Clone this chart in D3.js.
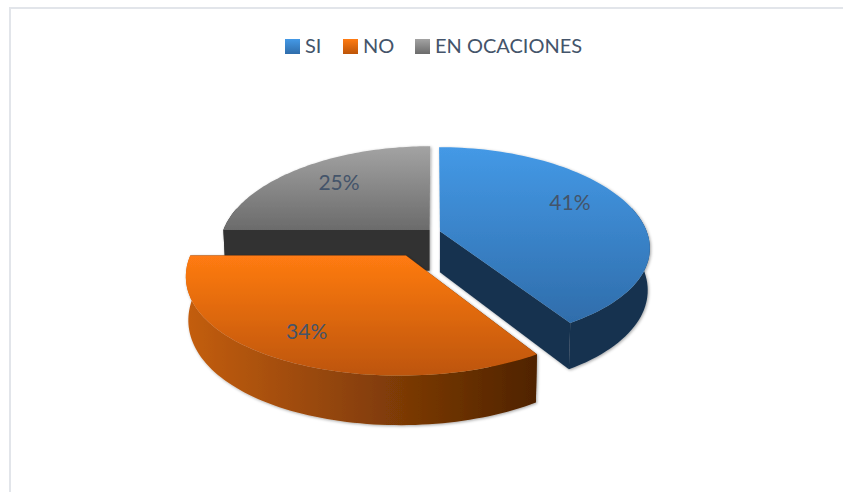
<!DOCTYPE html>
<html>
<head>
<meta charset="utf-8">
<script src="https://cdn.jsdelivr.net/npm/d3@7"></script>
<style>
  html, body { margin: 0; padding: 0; background: #fff; }
  text { font-family: Lato, "Noto Sans", sans-serif; fill: #44546a; }
</style>
</head>
<body>
<script>
const categories = ["SI", "NO", "EN OCACIONES"];
const values = [41, 34, 25];
const labels = ["41%", "34%", "25%"];

// how far each slice is pulled out of the pie, as a share of the radius
const explode = [0.03, 0.27, 0.03];
const topColors = [["#4499e6", "#2f6dab"], ["#ff7b12", "#bd5508"], ["#a3a3a3", "#6b6b6b"]];
const sideColors = [["#17334f", "#17334f"], ["#c45e10", "#4f2300"], ["#333333", "#333333"]];
const labelNudge = [[5, -12], [-21, 12], [-3, -6]];

const width = 843, height = 492;
const cx = 434, cy = 232;
const radius = 207, squash = 96, persp = 0.14, perspX = 0.17, depth = 41, baseShrink = 0.99;

const svg = d3.select("body").append("svg")
    .attr("width", width)
    .attr("height", height)
    .style("display", "block");

const defs = svg.append("defs");

function gradient(id, c, horizontal) {
    const g = defs.append("linearGradient").attr("id", id)
        .attr("x1", 0).attr("y1", 0)
        .attr("x2", horizontal ? 1 : 0).attr("y2", horizontal ? 0 : 1);
    g.append("stop").attr("offset", "0%").attr("stop-color", c[0]);
    g.append("stop").attr("offset", "100%").attr("stop-color", c[1]);
}
topColors.forEach((c, i) => gradient("top" + i, c, false));
sideColors.forEach((c, i) => gradient("side" + i, c, true));

const shadow = defs.append("filter").attr("id", "shadow")
    .attr("x", "-10%").attr("y", "-10%").attr("width", "120%").attr("height", "120%");
shadow.append("feDropShadow")
    .attr("dx", 1).attr("dy", 1).attr("stdDeviation", 1.5)
    .attr("flood-color", "#000").attr("flood-opacity", 0.35);

// frame of the chart area, open on the right and at the bottom
const frame = d3.line();
svg.append("path")
    .attr("d", frame([[10, height], [10, 8], [width, 8]]))
    .attr("fill", "none")
    .attr("stroke", "#e2e5ea")
    .attr("stroke-width", 2);

// disc coordinates to screen, with a simple perspective
function project(u, v, lower) {
    const k = 1 / (1 - persp * v);
    let sx = cx + radius * u / (1 - perspX * v);
    let sy = cy + squash * v * k;
    if (lower) {
        sx = cx + (sx - cx) * baseShrink;
        sy += depth * k;
    }
    return [sx, sy];
}

const pie = d3.pie().sort(null).startAngle(0).endAngle(2 * Math.PI);
const arcs = pie(values);
const line = d3.line();

function slicePoints(d, i, r) {
    const mid = (d.startAngle + d.endAngle) / 2;
    const ou = explode[i] * Math.sin(mid), ov = -explode[i] * Math.cos(mid);
    const angle = d3.scaleLinear().domain([0, 80]).range([d.startAngle, d.endAngle]);
    return {
        apex: [ou, ov],
        rim: d3.range(81).map(t => {
            const a = angle(t);
            return [ou + r * Math.sin(a), ov - r * Math.cos(a)];
        })
    };
}

// back to front so the big orange slice sits on top
[2, 0, 1].forEach(i => {
    const d = arcs[i];
    const p = slicePoints(d, i, 1);
    const g = svg.append("g").attr("filter", "url(#shadow)");

    const up = q => project(q[0], q[1], false);
    const lo = q => project(q[0], q[1], true);

    // radial walls, the ones running to the back of the pie can't be seen
    [p.rim[0], p.rim[80]].filter(edge => edge[1] > p.apex[1] - 0.5).forEach(edge => {
        g.append("path")
            .attr("d", line([up(p.apex), up(edge), lo(edge), lo(p.apex)]) + "Z")
            .attr("fill", sideColors[i][1]);
    });

    // outer wall, front part of the rim only
    const front = p.rim.filter(q => q[1] > p.apex[1] - 0.25);
    const wallTop = front.map(up);
    const wallLow = front.map(lo).reverse();
    g.append("path")
        .attr("d", line(wallTop.concat(wallLow)) + "Z")
        .attr("fill", "url(#side" + i + ")");

    // top face
    g.append("path")
        .attr("d", line([up(p.apex)].concat(p.rim.map(up))) + "Z")
        .attr("fill", "url(#top" + i + ")");
});

// percent labels
arcs.forEach((d, i) => {
    const mid = (d.startAngle + d.endAngle) / 2;
    const u = explode[i] * Math.sin(mid) + 0.65 * Math.sin(mid);
    const v = -explode[i] * Math.cos(mid) - 0.65 * Math.cos(mid);
    const pos = project(u, v, false);
    svg.append("text")
        .attr("x", pos[0] + labelNudge[i][0])
        .attr("y", pos[1] + labelNudge[i][1])
        .attr("dy", "0.35em")
        .attr("text-anchor", "middle")
        .style("font-size", "21px")
        .text(labels[i]);
});

// legend
const legendX = d3.scaleOrdinal().domain(categories).range([285, 343, 415]);
const legend = svg.append("g").selectAll("g").data(categories).join("g")
    .attr("transform", d => "translate(" + legendX(d) + ",39)");
legend.append("rect")
    .attr("width", 15).attr("height", 15)
    .attr("fill", (d, i) => "url(#top" + i + ")");
legend.append("text")
    .attr("x", 20).attr("y", 14)
    .style("font-size", "20px")
    .text(d => d);
</script>
</body>
</html>
